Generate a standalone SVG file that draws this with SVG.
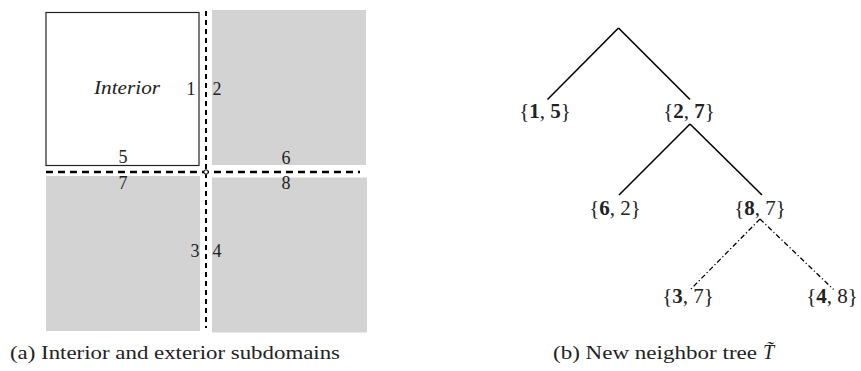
<svg xmlns="http://www.w3.org/2000/svg" width="861" height="371" viewBox="0 0 861 371">
<style>
text{font-family:"Liberation Serif","DejaVu Serif",serif;fill:#222}
.lbl{font-size:18px;text-anchor:middle}
.node{font-size:21px;text-anchor:middle}
.b{font-weight:bold}
.gray{fill:#d3d3d3}
.tl{stroke:#000;stroke-width:1.6;fill:none}
.dd{stroke:#000;stroke-width:1.3;fill:none;stroke-dasharray:5,2.5,1.2,2.5}
</style>
<rect width="861" height="371" fill="#fff"/>
<g id="subdomains">
<g id="interior">
<rect x="46" y="12.5" width="153" height="153" fill="#fff" stroke="#222" stroke-width="1.2"/>
<text x="127" y="94" class="lbl" font-style="italic" textLength="66" lengthAdjust="spacingAndGlyphs">Interior</text>
</g>
<g id="ext-top-right"><rect class="gray" x="212" y="10" width="154" height="155"/></g>
<g id="ext-bottom-left"><rect class="gray" x="46" y="176" width="154" height="155"/></g>
<g id="ext-bottom-right"><rect class="gray" x="212" y="177.5" width="155" height="155"/></g>
</g>
<g id="interfaces">
<line x1="206" y1="11" x2="206" y2="328" stroke="#000" stroke-width="2" stroke-dasharray="5,4"/>
<line x1="46" y1="172" x2="360" y2="172" stroke="#000" stroke-width="2.6" stroke-dasharray="7,5"/>
<circle cx="206" cy="172" r="2.2" fill="#fff" stroke="#000" stroke-width="1"/>
</g>
<g id="labels-a">
<text x="191" y="95" class="lbl">1</text>
<text x="217" y="95" class="lbl">2</text>
<text x="123" y="163" class="lbl">5</text>
<text x="286" y="164" class="lbl">6</text>
<text x="123" y="189" class="lbl">7</text>
<text x="286" y="189" class="lbl">8</text>
<text x="195" y="257" class="lbl">3</text>
<text x="217" y="257" class="lbl">4</text>
</g>
<text x="10" y="359" font-size="18" textLength="330" lengthAdjust="spacingAndGlyphs">(a) Interior and exterior subdomains</text>
<g id="connectors">
<line class="tl" x1="618.5" y1="28" x2="547.5" y2="99.5"/>
<line class="tl" x1="618.5" y1="28" x2="690" y2="99.5"/>
<line class="tl" x1="690" y1="124" x2="619" y2="195"/>
<line class="tl" x1="690" y1="124" x2="762" y2="195"/>
<line class="dd" x1="760" y1="219" x2="690.5" y2="289.5"/>
<line class="dd" x1="760" y1="219" x2="833.5" y2="289.5"/>
</g>
<g id="n15"><text x="545" y="118" class="node">{<tspan class="b">1</tspan>, <tspan class="b">5</tspan>}</text></g>
<g id="n27"><text x="689" y="118" class="node">{<tspan class="b">2</tspan>, <tspan class="b">7</tspan>}</text></g>
<g id="n62"><text x="615" y="215" class="node">{<tspan class="b">6</tspan>, 2}</text></g>
<g id="n87"><text x="760" y="215" class="node">{<tspan class="b">8</tspan>, 7}</text></g>
<g id="n37"><text x="688" y="303" class="node">{<tspan class="b">3</tspan>, 7}</text></g>
<g id="n48"><text x="832" y="303" class="node">{<tspan class="b">4</tspan>, 8}</text></g>
<text x="553" y="359" font-size="18"><tspan textLength="204" lengthAdjust="spacingAndGlyphs">(b) New neighbor tree</tspan><tspan x="763" font-size="20" font-style="italic">T̃</tspan></text>
</svg>
